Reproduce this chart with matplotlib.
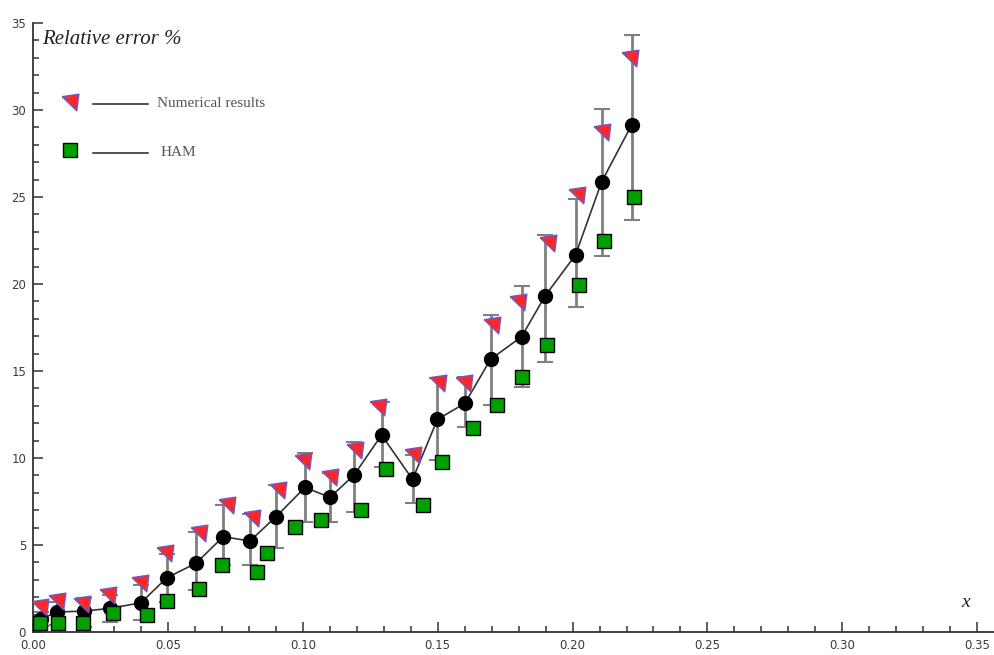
import matplotlib
matplotlib.use("Agg")
import matplotlib.pyplot as plt
from matplotlib.ticker import MultipleLocator, FormatStrFormatter

# Mean relative error with its spread
x_mean = [0.0030, 0.0088, 0.0190, 0.0285, 0.0400, 0.0496, 0.0604, 0.0705,
          0.0804, 0.0901, 0.1008, 0.1101, 0.1190, 0.1292, 0.1407, 0.1499,
          0.1601, 0.1696, 0.1811, 0.1898, 0.2011, 0.2108, 0.2219]
err_mean = [0.75, 1.15, 1.20, 1.36, 1.68, 3.12, 3.95, 5.48, 5.23, 6.63, 8.31,
            7.74, 9.02, 11.32, 8.77, 12.22, 13.14, 15.67, 16.97, 19.31, 21.67,
            25.88, 29.14]
err_high = [1.15, 1.70, 1.93, 2.10, 2.70, 4.50, 5.75, 7.30, 6.78, 8.45, 10.30,
            9.12, 10.94, 13.24, 10.17, 14.60, 14.64, 18.22, 19.90, 22.80, 24.89,
            30.04, 34.31]
err_low = [0.35, 0.40, 0.30, 0.60, 0.69, 1.74, 2.41, 3.85, 3.85, 4.84, 6.34,
           6.34, 6.91, 9.50, 7.40, 9.89, 11.80, 13.05, 14.06, 15.53, 18.66,
           21.61, 23.68]

# Numerical results
x_num = [0.0026, 0.0088, 0.0183, 0.0277, 0.0397, 0.0489, 0.0616, 0.0718,
         0.0811, 0.0909, 0.1001, 0.1101, 0.1193, 0.1280, 0.1410, 0.1502,
         0.1597, 0.1700, 0.1799, 0.1910, 0.2015, 0.2108, 0.2213]
y_num = [1.45, 1.80, 1.61, 2.13, 2.80, 4.52, 5.70, 7.30, 6.53, 8.16, 9.83,
         8.93, 10.46, 12.95, 10.17, 14.29, 14.30, 17.64, 18.98, 22.34, 25.10,
         28.75, 32.97]

# HAM
x_ham = [0.0026, 0.0094, 0.0186, 0.0298, 0.0421, 0.0496, 0.0616, 0.0699,
         0.0831, 0.0868, 0.0971, 0.1066, 0.1215, 0.1308, 0.1444, 0.1515,
         0.1630, 0.1721, 0.1811, 0.1906, 0.2023, 0.2116, 0.2228]
y_ham = [0.50, 0.53, 0.50, 1.07, 0.98, 1.78, 2.45, 3.85, 3.47, 4.52, 6.05,
         6.44, 7.03, 9.35, 7.30, 9.79, 11.70, 13.07, 14.67, 16.49, 19.94,
         22.49, 24.98]

flag = [(-1.0, 0.7), (1.0, 1.0), (0.75, -1.0), (-1.0, 0.7)]
tri_face, tri_edge = "#ff2626", "#6a5acd"
sq_face = "#00a000"

fig = plt.figure(figsize=(9.95, 6.55), dpi=100)
ax = fig.add_axes([0.0332, 0.0351, 0.9668, 0.9298])

# error bars under everything
yerr = [[m - lo for m, lo in zip(err_mean, err_low)],
        [hi - m for m, hi in zip(err_mean, err_high)]]
_, caps, bars = ax.errorbar(x_mean, err_mean, yerr=yerr, fmt="none",
                            ecolor="#808080", elinewidth=2.0, capsize=5.5,
                            capthick=1.5, zorder=1)
for c in caps:
    c.set_color("#333333")

ax.plot(x_mean, err_mean, color="#333333", lw=1.2, zorder=2)
ax.plot(x_mean, err_mean, "o", color="black", ms=10, zorder=3)
ax.plot(x_num, y_num, linestyle="none", marker=flag, ms=12,
        markerfacecolor=tri_face, markeredgecolor=tri_edge, mew=1, zorder=4)
ax.plot(x_ham, y_ham, "s", linestyle="none", ms=9.5, markerfacecolor=sq_face,
        markeredgecolor="black", mew=1, zorder=5)

ax.set_xlim(0, 0.3566)
ax.set_ylim(0, 35)

for s in ["top", "right"]:
    ax.spines[s].set_visible(False)
for s in ["left", "bottom"]:
    ax.spines[s].set_linewidth(1.3)
    ax.spines[s].set_color("#333333")

ax.xaxis.set_major_locator(MultipleLocator(0.05))
ax.xaxis.set_minor_locator(MultipleLocator(0.01))
ax.xaxis.set_major_formatter(FormatStrFormatter("%.2f"))
ax.yaxis.set_major_locator(MultipleLocator(5))
ax.yaxis.set_minor_locator(MultipleLocator(1))
ax.tick_params(which="both", direction="in", color="#333333", width=1.1,
               labelsize=8.5, labelcolor="#3a3a3a")
ax.tick_params(which="major", length=7, pad=5)
ax.tick_params(which="minor", length=4)
for lab in ax.get_xticklabels() + ax.get_yticklabels():
    lab.set_family("DejaVu Sans")

ax.text(0.0094, 0.973, "Relative error %", transform=ax.transAxes,
        family="Liberation Serif", style="italic", fontsize=15,
        color="#222222", va="center")
ax.text(0.965, 0.048, "x", transform=ax.transAxes, family="Liberation Serif",
        style="italic", fontsize=14, color="#222222", va="center")

# legend drawn by hand
leg = [(flag, tri_face, tri_edge, 0.871, "Numerical results", 0.129),
       ("s", sq_face, "black", 0.791, "HAM", 0.133)]
for mk, fc, ec, yy, label, tx in leg:
    ax.plot([0.038], [yy], marker=mk, ms=12 if mk is flag else 9.5,
            markerfacecolor=fc, markeredgecolor=ec, mew=1,
            transform=ax.transAxes, clip_on=False)
    ax.plot([0.062, 0.119], [yy - 0.004, yy - 0.004], color="#222222", lw=1.1,
            transform=ax.transAxes, clip_on=False)
    ax.text(tx, yy - 0.004, label, transform=ax.transAxes,
            family="Liberation Serif", fontsize=11, color="#555555",
            va="center")

fig.savefig("out.png", dpi=100)
